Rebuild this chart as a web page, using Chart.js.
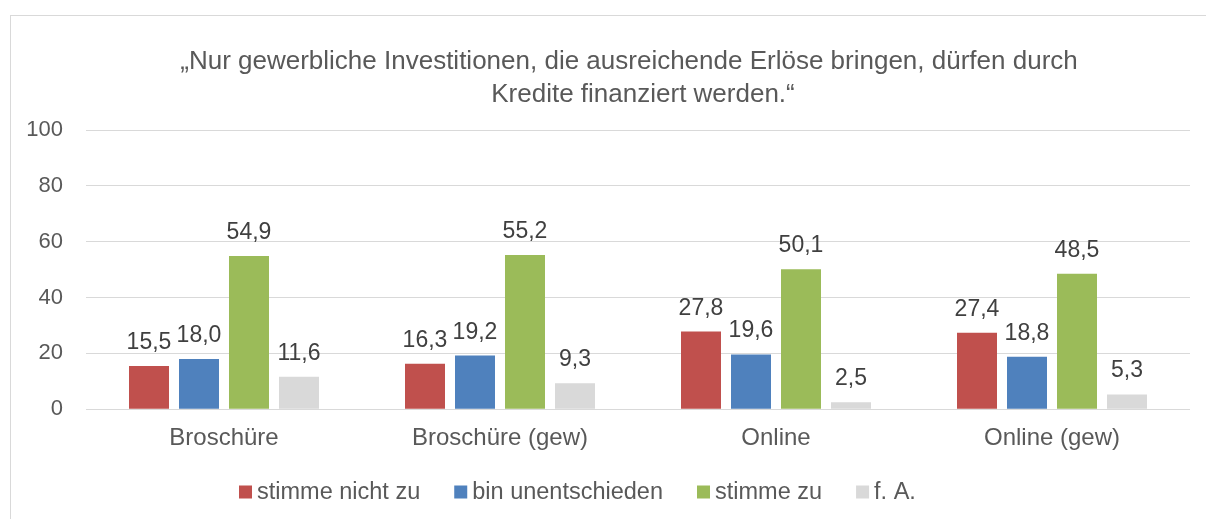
<!DOCTYPE html>
<html>
<head>
<meta charset="utf-8">
<script src="https://cdn.jsdelivr.net/npm/chart.js@4"></script>
<style>
  html, body { margin: 0; padding: 0; background: #fff; }
  #wrap { position: relative; width: 1206px; height: 519px; }
</style>
</head>
<body>
<div id="wrap"><canvas id="chart" width="1206" height="519"></canvas></div>
<script>
// categories and series
const categories = ["Broschüre", "Broschüre (gew)", "Online", "Online (gew)"];
const seriesNames = ["stimme nicht zu", "bin unentschieden", "stimme zu", "f. A."];
const nichtZu = [15.5, 16.3, 27.8, 27.4];
const unentschieden = [18.0, 19.2, 19.6, 18.8];
const stimmeZu = [54.9, 55.2, 50.1, 48.5];
const keineAngabe = [11.6, 9.3, 2.5, 5.3];
const yTicks = [0, 20, 40, 60, 80, 100];
const titleLines = ["„Nur gewerbliche Investitionen, die ausreichende Erlöse bringen, dürfen durch", "Kredite finanziert werden.“"];

const colors = ["#C0504D", "#4F81BD", "#9BBB59", "#D9D9D9"];
const allValues = [nichtZu, unentschieden, stimmeZu, keineAngabe];
const FONT = "'Liberation Sans', Arial, sans-serif";

Chart.defaults.font.family = FONT;
Chart.defaults.color = "#595959";

// outer frame, title and legend drawn around the plot like the office chart
const framePlugin = {
    id: 'frame',
    beforeDraw(chart) {
        const ctx = chart.ctx;
        ctx.save();
        ctx.fillStyle = '#fff';
        ctx.fillRect(0, 0, chart.width, chart.height);
        ctx.strokeStyle = '#D9D9D9';
        ctx.lineWidth = 1;
        ctx.strokeRect(10.5, 15.5, 1220, 540);

        // title, two lines as wrapped in the original
        ctx.font = "26px " + FONT;
        ctx.fillStyle = '#595959';
        ctx.textAlign = 'center';
        ctx.textBaseline = 'middle';
        ctx.fillText(titleLines[0], 629, 62);
        ctx.fillText(titleLines[1], 643, 95);

        // legend row
        ctx.font = "23.5px " + FONT;
        ctx.textAlign = 'left';
        let x = 239;
        const y = 492;
        chart.data.datasets.forEach(ds => {
            ctx.fillStyle = ds.backgroundColor;
            ctx.fillRect(x, y - 6.5, 13, 13);
            x += 18;
            ctx.fillStyle = '#595959';
            ctx.fillText(ds.label, x, y + 1);
            x += ctx.measureText(ds.label).width + 34;
        });
        ctx.restore();
    }
};

// value labels above each bar, german decimal comma
const valueLabels = {
    id: 'valueLabels',
    afterDatasetsDraw(chart) {
        const ctx = chart.ctx;
        ctx.save();
        ctx.font = "23px " + FONT;
        ctx.fillStyle = '#404040';
        ctx.textAlign = 'center';
        ctx.textBaseline = 'alphabetic';
        chart.data.datasets.forEach((ds, i) => {
            const meta = chart.getDatasetMeta(i);
            meta.data.forEach((bar, j) => {
                const txt = ds.data[j].toFixed(1).replace('.', ',');
                ctx.fillText(txt, bar.x, bar.y - 17);
            });
        });
        ctx.restore();
    }
};

const chart = new Chart(document.getElementById('chart'), {
    type: 'bar',
    data: {
        labels: categories,
        datasets: seriesNames.map((name, i) => ({
            label: name,
            data: allValues[i],
            backgroundColor: colors[i],
            categoryPercentage: 0.7246,
            barPercentage: 0.8
        }))
    },
    options: {
        responsive: false,
        animation: false,
        layout: { padding: { left: 10, right: 16, top: 130, bottom: 51 } },
        plugins: {
            title: { display: false },
            legend: { display: false },
            tooltip: { enabled: false }
        },
        scales: {
            x: {
                grid: { display: false, drawTicks: false },
                border: { display: false },
                ticks: { font: { size: 24 }, color: '#595959', padding: 15 }
            },
            y: {
                min: 0,
                max: 100,
                afterBuildTicks(axis) {
                    axis.ticks = yTicks.map(v => ({ value: v }));
                },
                afterFit(axis) {
                    axis.width = 76;
                },
                grid: { color: '#D9D9D9', drawTicks: false },
                border: { display: false },
                ticks: { font: { size: 22 }, color: '#595959', padding: 23 }
            }
        }
    },
    plugins: [framePlugin, valueLabels]
});
</script>
</body>
</html>
